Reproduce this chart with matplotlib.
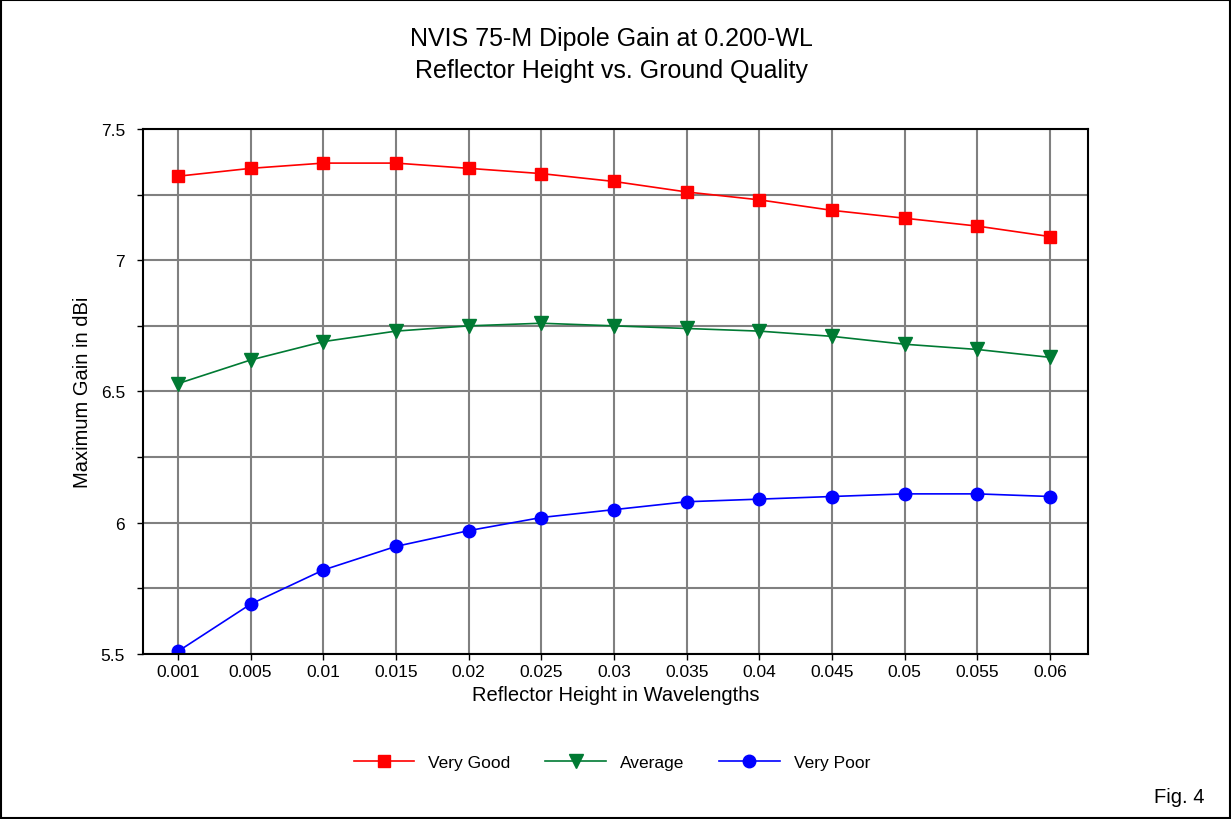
import numpy as np
import matplotlib.pyplot as plt

plt.rcParams['font.family'] = ['Liberation Sans', 'DejaVu Sans']

heights = ["0.001", "0.005", "0.01", "0.015", "0.02", "0.025", "0.03",
           "0.035", "0.04", "0.045", "0.05", "0.055", "0.06"]
very_good = [7.32, 7.35, 7.37, 7.37, 7.35, 7.33, 7.30, 7.26, 7.23, 7.19, 7.16, 7.13, 7.09]
average = [6.53, 6.62, 6.69, 6.73, 6.75, 6.76, 6.75, 6.74, 6.73, 6.71, 6.68, 6.66, 6.63]
very_poor = [5.51, 5.69, 5.82, 5.91, 5.97, 6.02, 6.05, 6.08, 6.09, 6.10, 6.11, 6.11, 6.10]

fig = plt.figure(figsize=(12.31, 8.2), dpi=100)
ax = fig.add_axes([0.1162, 0.2012, 0.7676, 0.6403])

x = np.arange(len(heights))
ax.plot(x, very_good, color='#ff0000', marker='s', markersize=9, lw=1.2, label='Very Good')
ax.plot(x, average, color='#007a33', marker='v', markersize=10, lw=1.2, label='Average')
ax.plot(x, very_poor, color='#0000ff', marker='o', markersize=9, lw=1.2, label='Very Poor')

ax.set_xlim(-0.48, 12.52)
ax.set_ylim(5.5, 7.5)
ax.set_xticks(x)
ax.set_xticklabels(heights)
ax.set_yticks([5.5, 6, 6.5, 7, 7.5])
ax.set_yticklabels(['5.5', '6', '6.5', '7', '7.5'])
ax.set_yticks(np.arange(5.5, 7.51, 0.25), minor=True)
ax.grid(True, which='both', color='#808080', lw=1.5)
ax.set_axisbelow(True)
ax.tick_params(axis='both', labelsize=12.5, length=4, width=1)
ax.tick_params(axis='y', which='both', pad=9)
ax.tick_params(axis='y', which='minor', length=4, width=1)
for s in ax.spines.values():
    s.set_color('black')
    s.set_linewidth(1.5)

ax.set_xlabel('Reflector Height in Wavelengths', fontsize=14.5, labelpad=4)
ax.set_ylabel('Maximum Gain in dBi', fontsize=14.5, labelpad=6)

fig.text(0.497, 0.952, 'NVIS 75-M Dipole Gain at 0.200-WL', ha='center', va='center', fontsize=18)
fig.text(0.497, 0.914, 'Reflector Height vs. Ground Quality', ha='center', va='center', fontsize=18)
fig.text(0.958, 0.028, 'Fig. 4', ha='center', va='center', fontsize=14.5)

fig.legend(loc='center', bbox_to_anchor=(0.497, 0.069), ncol=3, frameon=False,
           fontsize=12.5, handlelength=3.5, columnspacing=2.0)

# outer frame
fig.add_artist(plt.Rectangle((0.001, 0.001), 0.998, 0.998, transform=fig.transFigure,
                             fill=False, edgecolor='black', lw=1.5))

fig.savefig('out.png', dpi=100)
